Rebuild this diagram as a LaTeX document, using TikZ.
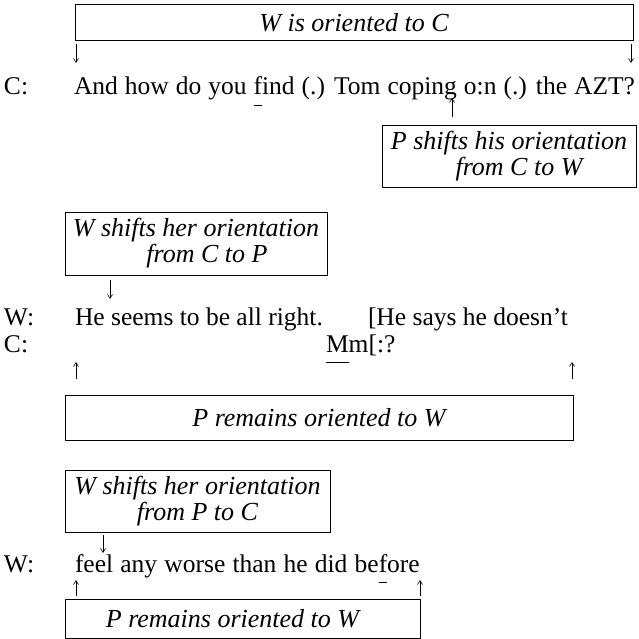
\documentclass[tikz,border=0pt]{standalone}
\usepackage{fontspec}
\setmainfont{Liberation Serif}
\usetikzlibrary{arrows.meta}
% short stress mark drawn under a single letter
\newlength\stresswd
\newcommand\stressmark[1]{\settowidth\stresswd{#1}\rlap{\rule[-0.42em]{\stresswd}{0.7pt}}#1}
\begin{document}
\begin{tikzpicture}[x=1pt,y=-1pt,
  every node/.style={inner sep=0pt,outer sep=0pt},
  turn/.style={anchor=base west,font=\fontsize{25.5}{26}\selectfont},
  spk/.style={anchor=base west,font=\fontsize{25.5}{26}\selectfont},
  note/.style={draw,line width=0.9pt,align=center,font=\fontsize{26}{26}\selectfont\itshape},
  pointer/.style={line width=0.6pt,-{Straight Barb[length=4pt,width=5pt]}}]
\useasboundingbox (0,0) rectangle (638,639);

% first turn
\node[note,minimum width=558pt,minimum height=36pt] (b1) at (354,22.5) {W is oriented to C};
\coordinate (a1s) at (76,44);  \coordinate (a1e) at (76,63);
\coordinate (a2s) at (631,44); \coordinate (a2e) at (631,63);
\draw[pointer] (a1s) -- (a1e);
\draw[pointer] (a2s) -- (a2e);
\node[spk] (s1) at (4,95) {C:};
\node[turn] (t1) at (74,95) {\spaceskip=7pt And how do you \stressmark{f}ind (.) Tom coping o:n (.) the AZT?};
\coordinate (a3s) at (452,117); \coordinate (a3e) at (452,98);
\draw[pointer] (a3s) -- (a3e);
\node[note,minimum width=254pt,minimum height=62pt] (b2) at (509,156) {P shifts his orientation\\\hspace*{20pt}from C to W};

% second turn
\node[note,minimum width=262pt,minimum height=63pt] (b3) at (196,243.5) {W shifts her orientation\\\hspace*{22pt}from C to P};
\coordinate (a4s) at (110,280); \coordinate (a4e) at (110,299);
\draw[pointer] (a4s) -- (a4e);
\node[spk] (s2) at (4,325) {W:};
\node[turn] (t2) at (75,325) {He seems to be all right.};
\node[turn] (t2b) at (368,325) {[He says he doesn't};
\node[spk] (s3) at (4,352) {C:};
\node[turn] (t3) at (326,352) {\stressmark{M}m[:?};
\coordinate (a5s) at (76,379);  \coordinate (a5e) at (76,362);
\coordinate (a6s) at (572,379); \coordinate (a6e) at (572,362);
\draw[pointer] (a5s) -- (a5e);
\draw[pointer] (a6s) -- (a6e);
\node[note,minimum width=508pt,minimum height=45pt] (b5) at (319,417.5) {P remains oriented to W};

% third turn
\node[note,minimum width=265pt,minimum height=62pt] (b4) at (197.5,501) {W shifts her orientation\\from P to C};
\coordinate (a7s) at (103,535); \coordinate (a7e) at (103,553);
\draw[pointer] (a7s) -- (a7e);
\node[spk] (s4) at (4,572) {W:};
\node[turn] (t4) at (75,572) {\spaceskip=7.2pt feel any worse than he did be\stressmark{f}ore};
\coordinate (a8s) at (76,596);  \coordinate (a8e) at (76,580);
\coordinate (a9s) at (420,596); \coordinate (a9e) at (420,580);
\draw[pointer] (a8s) -- (a8e);
\draw[pointer] (a9s) -- (a9e);
\node[note,minimum width=355pt,minimum height=39pt] (b6) at (242.5,618.5) {\hspace*{-20pt}P remains oriented to W};
\end{tikzpicture}
\end{document}
